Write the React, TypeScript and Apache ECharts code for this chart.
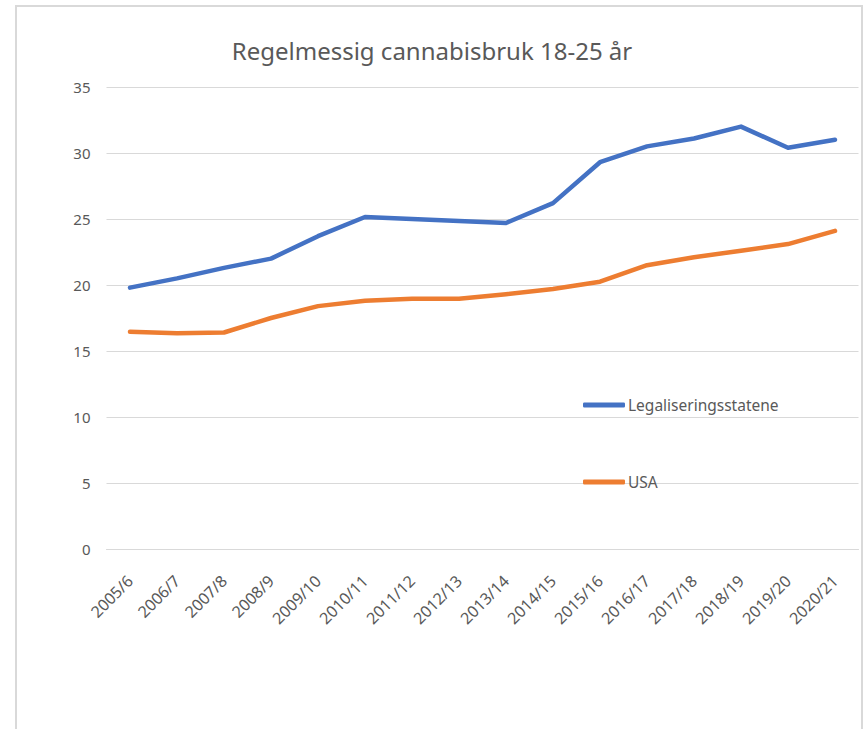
import React, { useEffect, useRef } from "react";
import * as echarts from "echarts";

const categories = ["2005/6","2006/7","2007/8","2008/9","2009/10","2010/11","2011/12","2012/13","2013/14","2014/15","2015/16","2016/17","2017/18","2018/19","2019/20","2020/21"];
const legaliseringsstatene = [19.8,20.5,21.3,22.0,23.7,25.15,25.0,24.85,24.7,26.2,29.3,30.5,31.1,32.0,30.4,31.0];
const usa = [16.45,16.35,16.4,17.5,18.4,18.8,18.95,18.95,19.3,19.7,20.25,21.5,22.1,22.6,23.1,24.1];
const title = "Regelmessig cannabisbruk 18-25 år";

const FONT = "'Noto Sans', 'Open Sans', sans-serif";

export default function App() {
  const ref = useRef<HTMLDivElement>(null);
  useEffect(() => {
    if (!ref.current) return;
    const chart = echarts.init(ref.current, undefined, { renderer: "svg" });
    chart.setOption({
      animation: false,
      backgroundColor: "#ffffff",
      title: {
        text: title,
        left: "center",
        top: 33,
        textStyle: { fontFamily: FONT, fontSize: 24, fontWeight: "normal", color: "#595959" },
      },
      graphic: [
        {
          type: "rect",
          shape: { x: 16, y: 6, width: 846, height: 760 },
          style: { fill: "none", stroke: "#d9d9d9", lineWidth: 2 },
          silent: true,
        },
      ],
      legend: {
        orient: "vertical",
        left: 578,
        top: 392,
        itemGap: 61,
        itemWidth: 42,
        itemHeight: 5,
        icon: "roundRect",
        textStyle: { fontFamily: FONT, fontSize: 15.5, color: "#595959", padding: [0, 0, 0, -2] },
        data: ["Legaliseringsstatene", "USA"],
      },
      grid: { left: 106.5, right: 5.5, top: 87, bottom: 180, containLabel: false },
      xAxis: {
        type: "category",
        data: categories,
        boundaryGap: true,
        axisLine: { show: true, lineStyle: { color: "#d9d9d9", width: 1 } },
        axisTick: { show: false },
        axisLabel: {
          rotate: 45,
          margin: 29,
          interval: 0,
          fontFamily: FONT,
          fontSize: 16,
          color: "#595959",
        },
      },
      yAxis: {
        type: "value",
        min: 0,
        max: 35,
        interval: 5,
        axisLine: { show: false },
        axisTick: { show: false },
        splitLine: { lineStyle: { color: "#d9d9d9", width: 1 } },
        axisLabel: { margin: 16, fontFamily: FONT, fontSize: 15, color: "#595959" },
      },
      series: [
        {
          name: "Legaliseringsstatene",
          type: "line",
          data: legaliseringsstatene,
          showSymbol: false,
          symbol: "none",
          lineStyle: { color: "#4472C4", width: 4.5, cap: "round", join: "round" },
          itemStyle: { color: "#4472C4" },
        },
        {
          name: "USA",
          type: "line",
          data: usa,
          showSymbol: false,
          symbol: "none",
          lineStyle: { color: "#ED7D31", width: 4.5, cap: "round", join: "round" },
          itemStyle: { color: "#ED7D31" },
        },
      ],
    });
    return () => chart.dispose();
  }, []);
  return (
    <div
      ref={ref}
      style={{ position: "fixed", left: 0, top: 0, width: 864, height: 729 }}
    />
  );
}
